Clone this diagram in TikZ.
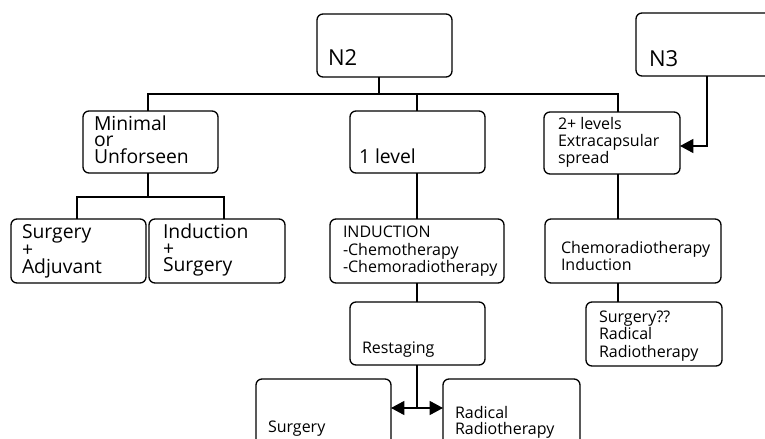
\documentclass[tikz,border=0pt]{standalone}
\usepackage{fontspec}
\setmainfont{Open Sans}
\usetikzlibrary{arrows.meta}
\begin{document}
\begin{tikzpicture}[x=0.75pt,y=-0.75pt,
  bx/.style={draw=black, line width=1pt, rounded corners=4.5pt, inner sep=0pt, outer sep=0pt, anchor=north west},
  ln/.style={draw=black, line width=1pt},
  tx/.style={inner sep=0pt, outer sep=0pt, anchor=base west, text height=0.72em, text depth=0.1em},
  fb/.style={font=\fontsize{16.5}{19}\selectfont},
  fm/.style={font=\fontsize{14.5}{17}\selectfont},
  fs/.style={font=\fontsize{12}{14}\selectfont},
  tipst/.style={-{Triangle[length=10pt,width=10.5pt]}},
  dtipst/.style={{Triangle[length=10pt,width=10.5pt]}-{Triangle[length=10pt,width=10.5pt]}}
]
\useasboundingbox (0,0) rectangle (765,439);
\clip (0,0) rectangle (765,439);

% boxes
\node[bx, minimum width=101.25pt, minimum height=47.25pt] (n2) at (317,14) {};
\node[bx, minimum width=123pt, minimum height=47.25pt] (n3) at (636,13) {};
\node[bx, minimum width=101.25pt, minimum height=46.5pt] (minimal) at (83,111) {};
\node[bx, minimum width=101.25pt, minimum height=46.5pt] (onelev) at (350,111) {};
\node[bx, minimum width=102pt, minimum height=46.5pt] (lev2) at (544,112) {};
\node[bx, minimum width=101.25pt, minimum height=48pt] (sadj) at (11,219) {};
\node[bx, minimum width=102pt, minimum height=48pt] (isurg) at (149,219) {};
\node[bx, minimum width=130.5pt, minimum height=48pt] (induc) at (330,219) {};
\node[bx, minimum width=132pt, minimum height=48pt] (chemo) at (545,219) {};
\node[bx, minimum width=101.25pt, minimum height=47.25pt] (restag) at (350,302) {};
\node[bx, minimum width=102pt, minimum height=48pt] (surgq) at (586,302) {};
\node[bx, minimum width=101.25pt, minimum height=49.5pt] (surg) at (256,379) {};
\node[bx, minimum width=102.75pt, minimum height=49.5pt] (radr) at (443,379) {};

% texts
\node[tx,fb] (tn2) at (328,65) {N2};
\node[tx,fb] (tn3) at (649,66) {N3};
\node[tx,fm] (tmin1) at (94,130) {Minimal};
\node[tx,fm] (tmin2) at (94,146.5) {or};
\node[tx,fm] (tmin3) at (94,163) {Unforseen};
\node[tx,fm] (tone) at (359,163) {1 level};
\node[tx,fs] (tl1) at (558,129.5) {2+ levels};
\node[tx,fs] (tl2) at (558,146.5) {Extracapsular};
\node[tx,fs] (tl3) at (558,163) {spread};
\node[tx,fm] (ts1) at (22,238) {Surgery};
\node[tx,fm] (ts2) at (22,256.5) {+};
\node[tx,fm] (ts3) at (22,273) {Adjuvant};
\node[tx,fm] (ti1) at (163,238) {Induction};
\node[tx,fm] (ti2) at (163,255.5) {+};
\node[tx,fm] (ti3) at (163,271) {Surgery};
\node[tx,fs] (tin1) at (343,237) {INDUCTION};
\node[tx,fs] (tin2) at (343,255) {-Chemotherapy};
\node[tx,fs] (tin3) at (343,272) {-Chemoradiotherapy};
\node[tx,fs] (tc1) at (561,253) {Chemoradiotherapy};
\node[tx,fs] (tc2) at (561,270) {Induction};
\node[tx,fs] (tq1) at (599,322) {Surgery??};
\node[tx,fs] (tq2) at (599,339) {Radical};
\node[tx,fs] (tq3) at (599,357) {Radiotherapy};
\node[tx,fs] (tr) at (362,353) {Restaging};
\node[tx,fs] (tsu) at (268,432) {Surgery};
\node[tx,fs] (trr1) at (455,418) {Radical};
\node[tx,fs] (trr2) at (455,434) {Radiotherapy};

% junction coordinates
\coordinate (j1) at (379,94);
\coordinate (busL) at (148,94);
\coordinate (busR) at (618,94);
\coordinate (j2) at (417,94);
\coordinate (j3) at (148,197);
\coordinate (sL) at (77,197);
\coordinate (sR) at (224,197);
\coordinate (j4) at (417,408);
\coordinate (j5) at (707,146);

% connectors
\draw[ln] (j1 |- n2.south) -- (j1);
\draw[ln] (busL |- minimal.north) -- (busL) -- (busR) -- (busR |- lev2.north);
\draw[ln] (j2) -- (j2 |- onelev.north);
\draw[ln] (j3 |- minimal.south) -- (j3);
\draw[ln] (sL |- sadj.north) -- (sL) -- (sR) -- (sR |- isurg.north);
\draw[ln] (j2 |- onelev.south) -- (j2 |- induc.north);
\draw[ln] (j2 |- induc.south) -- (j2 |- restag.north);
\draw[ln] (j2 |- restag.south) -- (j4);
\draw[ln,dtipst] (surg.east |- j4) -- (radr.west |- j4);
\draw[ln,tipst] (j5 |- n3.south) -- (j5) -- (lev2.east |- j5);
\draw[ln] (busR |- lev2.south) -- (busR |- chemo.north);
\draw[ln] (busR |- chemo.south) -- (busR |- surgq.north);
\end{tikzpicture}
\end{document}
